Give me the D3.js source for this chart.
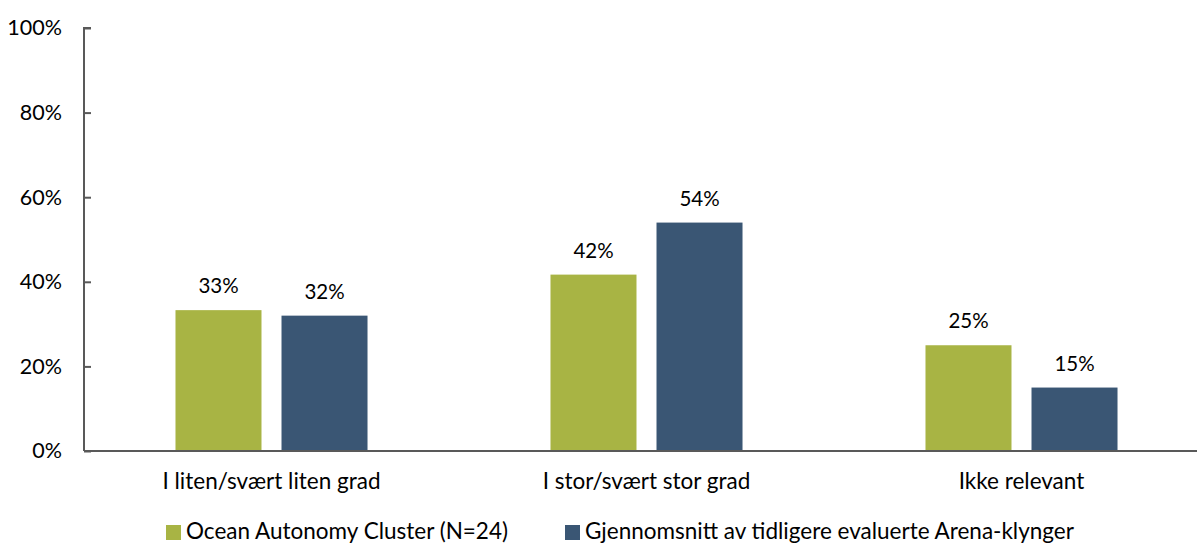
<!DOCTYPE html>
<html>
<head>
<meta charset="utf-8">
<script src="https://cdn.jsdelivr.net/npm/d3@7"></script>
<style>
  html, body { margin: 0; padding: 0; background: #fff; }
  svg { display: block; font-family: "Lato", "Open Sans", sans-serif; }
</style>
</head>
<body>
<svg id="chart" width="1197" height="545"></svg>
<script>
// Categories, series and values (shares, in percent)
const categories = ["I liten/svært liten grad", "I stor/svært stor grad", "Ikke relevant"];
const seriesNames = ["Ocean Autonomy Cluster (N=24)", "Gjennomsnitt av tidligere evaluerte Arena-klynger"];
const oceanValues = [33.3, 41.7, 25];
const arenaValues = [32, 54, 15];
const seriesColors = ["#a8b444", "#3a5674"];
const yTicks = [0, 20, 40, 60, 80, 100];

const svg = d3.select("#chart");
const axisColor = "#595959";

const plot = { left: 84, right: 1209, top: 28, bottom: 451 };

const x = d3.scaleBand().domain(categories).range([plot.left, plot.right]).padding(0);
const xInner = d3.scaleBand().domain(seriesNames).range([0, x.bandwidth()])
  .paddingInner(0.1887).paddingOuter(0.863);
const y = d3.scaleLinear().domain([0, 100]).range([plot.bottom, plot.top]);

const rows = categories.map((c, i) => ({
  category: c,
  values: [
    { series: seriesNames[0], value: oceanValues[i], color: seriesColors[0] },
    { series: seriesNames[1], value: arenaValues[i], color: seriesColors[1] }
  ]
}));

// Bars
const groups = svg.append("g").selectAll("g").data(rows).join("g")
  .attr("transform", d => `translate(${x(d.category)},0)`);

groups.selectAll("rect").data(d => d.values).join("rect")
  .attr("x", d => xInner(d.series))
  .attr("width", xInner.bandwidth())
  .attr("y", d => y(d.value))
  .attr("height", d => y(0) - y(d.value))
  .attr("fill", d => d.color);

// Value labels
groups.selectAll("text").data(d => d.values).join("text")
  .attr("x", d => xInner(d.series) + xInner.bandwidth() / 2)
  .attr("y", d => y(d.value) - 17)
  .attr("text-anchor", "middle")
  .attr("font-size", 20.5)
  .attr("fill", "#000")
  .text(d => d3.format(".0f")(d.value) + "%");

// Y axis with inward ticks
const yAxis = svg.append("g")
  .attr("transform", `translate(${plot.left},0)`)
  .call(d3.axisLeft(y).tickValues(yTicks).tickSize(-7).tickPadding(22)
    .tickFormat(d => d + "%"));
yAxis.select(".domain").attr("stroke", axisColor).attr("stroke-width", 2)
  .attr("d", `M7,${plot.top}H0V${plot.bottom}`);
yAxis.selectAll(".tick line").attr("stroke", axisColor).attr("stroke-width", 2);
yAxis.selectAll(".tick text").attr("font-size", 21.5).attr("fill", "#000")
  .attr("font-family", "Lato, 'Open Sans', sans-serif");

// X axis baseline and category labels
svg.append("line")
  .attr("x1", plot.left).attr("x2", 1197)
  .attr("y1", y(0)).attr("y2", y(0))
  .attr("stroke", axisColor).attr("stroke-width", 2);

svg.append("g").selectAll("text").data(categories).join("text")
  .attr("x", d => x(d) + x.bandwidth() / 2)
  .attr("y", 489)
  .attr("text-anchor", "middle")
  .attr("font-size", 22.5)
  .attr("fill", "#000")
  .text(d => d);

// Legend
const legendX = [166, 565];
const legend = svg.append("g").selectAll("g").data(seriesNames).join("g")
  .attr("transform", (d, i) => `translate(${legendX[i]},525)`);
legend.append("rect").attr("width", 15).attr("height", 15)
  .attr("fill", (d, i) => seriesColors[i]);
legend.append("text").attr("x", 20).attr("y", 14)
  .attr("font-size", 22.5).attr("fill", "#000")
  .text(d => d);
</script>
</body>
</html>
